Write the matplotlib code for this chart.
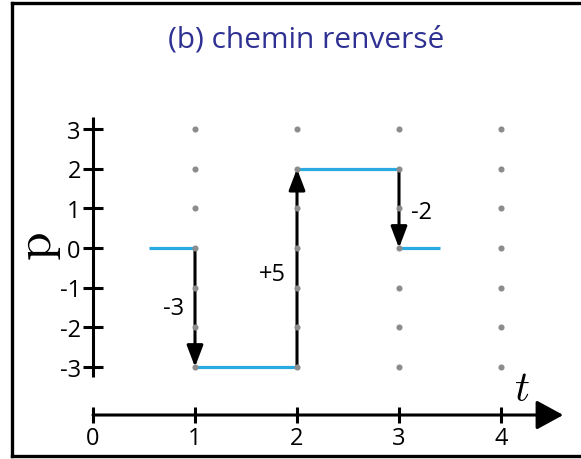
import matplotlib
matplotlib.use("Agg")
import matplotlib.pyplot as plt
from matplotlib.lines import Line2D

plt.rcParams['font.family'] = ['Open Sans', 'DejaVu Sans']
plt.rcParams['mathtext.fontset'] = 'cm'

# ---- data ----
t_ticks = [0, 1, 2, 3, 4]
p_ticks = [-3, -2, -1, 0, 1, 2, 3]
grid_t = [1, 2, 3, 4]
grid_p = [-3, -2, -1, 0, 1, 2, 3]
jump_times = [1, 2, 3]
levels = [0, -3, 2, 0]
path_start = 0.55
path_end = 3.4
title = "(b) chemin renversé"

BLUE = "#29abe2"
TITLE_C = "#2e3192"
GRAY = "#8c8c8c"

fig = plt.figure(figsize=(5.81, 4.60), dpi=100)
ax = fig.add_axes([0, 0, 1, 1])
ax.set_xlim(-93 / 102, (581 - 93) / 102)
ax.set_ylim(-(460 - 249) / 39.67, 249 / 39.67)
ax.axis('off')

# border
fig.add_artist(Line2D([12 / 581, 12 / 581], [1 - 4 / 460, 1 - 457 / 460], color='black', lw=2.4, transform=fig.transFigure, solid_capstyle='projecting'))
fig.add_artist(Line2D([12 / 581, 1.01], [1 - 4 / 460, 1 - 4 / 460], color='black', lw=2.4, transform=fig.transFigure))
fig.add_artist(Line2D([12 / 581, 1.01], [1 - 457 / 460, 1 - 457 / 460], color='black', lw=2.4, transform=fig.transFigure))

# p axis
y_axis_bottom, y_axis_top = -3.25, 3.3
ax.plot([0, 0], [y_axis_bottom, y_axis_top], color='black', lw=2.2, solid_capstyle='butt')
for p in p_ticks:
    ax.plot([-0.1, 0.1], [p, p], color='black', lw=2.2, solid_capstyle='butt')
    ax.text(-0.12, p - 0.215, f"{p}", ha='right', va='baseline', fontsize=17)

# t axis
x_axis_p = -4.21
x_tip = 4.61
ax.annotate('', xy=(x_tip, x_axis_p), xytext=(0, x_axis_p),
            arrowprops=dict(arrowstyle='-|>,head_length=1.65,head_width=0.9', lw=2.2,
                            color='black', mutation_scale=10, shrinkA=0, shrinkB=0))
for t in t_ticks:
    ax.plot([t, t], [x_axis_p - 0.19, x_axis_p + 0.19], color='black', lw=2.2, solid_capstyle='butt')
    ax.text(t, -4.94, f"{t}", ha='center', va='baseline', fontsize=17)

# axis labels
ax.text(4.206, -3.55, r'$t$', ha='center', va='center', fontsize=30)
ax.text(-0.54, 0.05, r'$\mathrm{p}$', ha='center', va='center', fontsize=37, rotation=90)

# title
ax.text(2.09, 5.09, title, ha='center', va='baseline', fontsize=21.5, color=TITLE_C)

# blue path
seg_t = [path_start] + jump_times + [path_end]
for i, lv in enumerate(levels):
    ax.plot([seg_t[i], seg_t[i + 1]], [lv, lv], color=BLUE, lw=2.3, solid_capstyle='butt', zorder=3)

# jump arrows with labels
label_pos = [(0.794, -1.46), (1.755, -0.58), (3.216, 0.98)]
for i, tj in enumerate(jump_times):
    a, b = levels[i], levels[i + 1]
    ax.annotate('', xy=(tj, b), xytext=(tj, a),
                arrowprops=dict(arrowstyle='-|>,head_length=1.0,head_width=0.38', lw=2.2,
                                color='black', mutation_scale=13, shrinkA=0, shrinkB=0),
                zorder=4)
    d = b - a
    lab = f"+{d}" if d > 0 else f"{d}"
    lx, ly = label_pos[i]
    ax.text(lx, ly - 0.215, lab, ha='center', va='baseline', fontsize=17)

# grid dots
for t in grid_t:
    ax.plot([t] * len(grid_p), grid_p, 'o', color=GRAY, ms=4.4, mec='none', zorder=6)

fig.savefig("out.png", dpi=100)
